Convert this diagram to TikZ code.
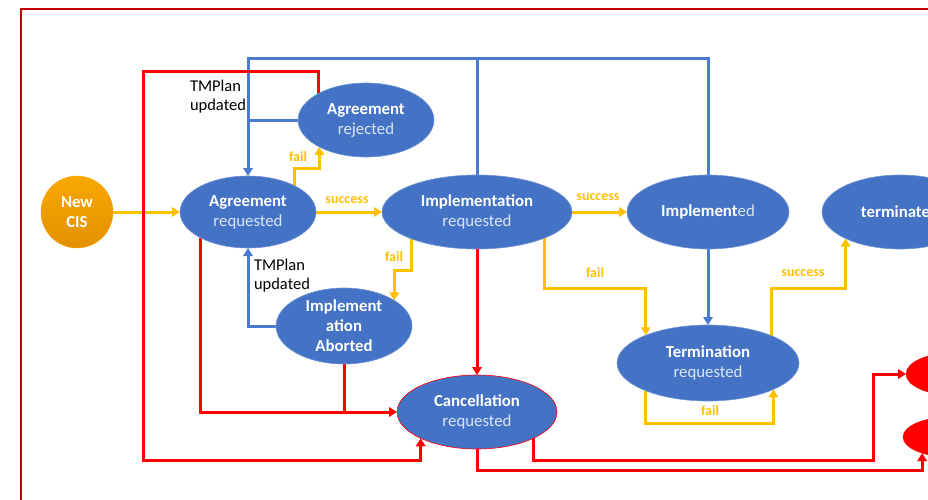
\documentclass[tikz,border=0pt]{standalone}
\usepackage{fontspec}
\setmainfont{Carlito}
\usetikzlibrary{arrows.meta,shapes.geometric,backgrounds}
\definecolor{nodeblue}{HTML}{4472C4}
\definecolor{lineblue}{HTML}{4A7BD2}
\definecolor{ylw}{HTML}{FFC000}
\definecolor{sub}{HTML}{DDE6F4}
\definecolor{framered}{HTML}{C00000}
\definecolor{cisA}{HTML}{F8A800}
\definecolor{cisB}{HTML}{E39000}
\begin{document}
\begin{tikzpicture}[x=1pt,y=-1pt,
  st/.style={ellipse, fill=nodeblue, draw=nodeblue!75!white, line width=0.6pt,
    inner sep=0pt, outer sep=0pt, align=center, text=white,
    font=\fontsize{16.8}{20}\selectfont},
  redst/.style={ellipse, fill=red, draw=red, inner sep=0pt, outer sep=0pt},
  conn/.style={line width=3pt, line join=miter},
  yl/.style={conn, draw=ylw},
  bl/.style={conn, draw=lineblue},
  rd/.style={conn, draw=red},
  arr/.style={-{Triangle[length=8pt,width=9.5pt]}},
  lab/.style={text=ylw, inner sep=0pt, font=\fontsize{14}{15}\selectfont\bfseries},
  note/.style={text=black, inner sep=0pt, align=left, font=\fontsize{16.5}{19}\selectfont}
]
\useasboundingbox (0,0) rectangle (928,499);
\clip (0,0) rectangle (928,499);

% nodes
\node[circle, minimum size=72pt, inner sep=0pt, outer sep=0pt, top color=cisA, bottom color=cisB,
  draw=cisA, align=center, text=white, font=\fontsize{16.8}{20}\selectfont\bfseries] (new) at (77,212) {New\\CIS};
\node[st, minimum width=136pt, minimum height=72pt] (ar) at (248,212) {\textbf{Agreement}\\{\color{sub}requested}};
\node[st, minimum width=136pt, minimum height=74pt] (arj) at (366,120) {\textbf{Agreement}\\{\color{sub}rejected}};
\node[st, minimum width=190pt, minimum height=74pt] (ir) at (477,212) {\textbf{Implementation}\\{\color{sub}requested}};
\node[st, minimum width=162pt, minimum height=74pt] (im) at (708,212) {\textbf{Implement}{\color{sub}ed}};
\node[st, minimum width=156pt, minimum height=74pt] (te) at (900,212) {\textbf{terminated}};
\node[st, minimum width=136pt, minimum height=76pt] (ia) at (344,326) {\textbf{Implement}\\\textbf{ation}\\\textbf{Aborted}};
\node[st, draw=red, minimum width=160pt, minimum height=74pt] (cr) at (477,412) {\textbf{Cancellation}\\{\color{sub}requested}};
\node[st, minimum width=182pt, minimum height=76pt] (tr) at (708,363) {\textbf{Termination}\\{\color{sub}requested}};
\node[redst, minimum width=92pt, minimum height=42pt] (rd1) at (952,374) {};
\node[redst, minimum width=94pt, minimum height=40pt] (rd2) at (950,437) {};

% labels
\node[lab] (l1) at (298,157) {fail};
\node[lab] (l2) at (347,200) {success};
\node[lab] (l3) at (598,197) {success};
\node[lab] (l4) at (394,257) {fail};
\node[lab] (l5) at (595,273) {fail};
\node[lab] (l6) at (803,273) {success};
\node[lab] (l7) at (710,411) {fail};
\node[note] (n1) at (218,97) {TMPlan\\updated};
\node[note] (n2) at (282,276) {TMPlan\\updated};

% frame
\draw[framered, line width=2.6pt] (21,530) -- (21,9) -- (960,9);

\begin{scope}[on background layer]
% yellow
\draw[yl, arr] (new) -- (ar);
\draw[yl, arr] (ar) -- (ir);
\draw[yl, arr] (ir) -- (im);
\draw[yl, arr] (ar.29) -- (ar.29 |- 0,168) -| (arj.210);
\draw[yl, arr] (ir.202) -- (ir.202 |- 0,270) -| (ia.27);
\draw[yl, arr] (ir.-21) -- (ir.-21 |- 0,288) -| (tr.156);
\draw[yl, arr] (tr.23) -- (tr.23 |- 0,288) -| (te.206);
\draw[yl, arr] (tr.204) -- (tr.204 |- 0,423) -| (tr.-22);
% blue
\draw[bl, arr] (im.south) -- (tr.north);
\draw[bl] (ir.north) -- (ir.north |- 0,58);
\draw[bl, arr] (im.north) |- (ar.north |- 0,58) -- (ar.north);
\draw[bl] (arj.west) -- (arj.west -| ar.north);
\draw[bl, arr] (ia.west) -| (ar.south);
% red
\draw[rd, arr] (arj.151) -- (arj.151 |- 0,71) -| (143,460) -| (cr.205);
\draw[rd, arr] (ar.208) |- (cr.west);
\draw[rd] (ia.south) -- (ia.south |- cr.west);
\draw[rd, arr] (ir.south) -- (cr.north);
\draw[rd, arr] (cr.south) -- (cr.south |- 0,470) -| (rd2.210);
\draw[rd, arr] (cr.-25) |- (873,460) |- (rd1.west);
\end{scope}
\end{tikzpicture}
\end{document}
